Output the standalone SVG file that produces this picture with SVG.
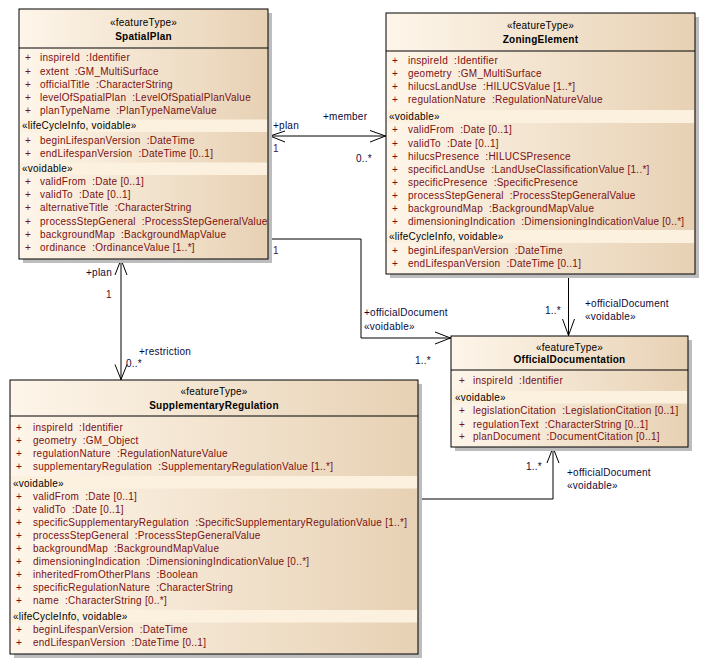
<svg xmlns="http://www.w3.org/2000/svg" width="707" height="664" viewBox="0 0 707 664">
<defs>
<linearGradient id="g" x1="0" y1="0" x2="1" y2="0">
<stop offset="0" stop-color="#FEF6EA"/>
<stop offset="1" stop-color="#E7D1B4"/>
</linearGradient>
</defs>
<style>
text{font-family:"Liberation Sans",Arial,sans-serif;font-size:10px;letter-spacing:0.25px;white-space:pre}
.box{fill:url(#g);stroke:#000;stroke-width:1}
.sh{fill:#BDBDBD}
.sep{stroke:#000;stroke-width:1}
.band{fill:#FCF1DF}
.st{fill:#000;text-anchor:middle}
.nm{fill:#000;text-anchor:middle;font-weight:bold}
.a{fill:#7A1010}
.cl{fill:#000}
.ln{fill:none;stroke:#000;stroke-width:1}
.lb{fill:#0A0A3A}
.m1{fill:#5A1030}
</style>
<rect x="0" y="0" width="707" height="664" fill="#fff"/>

<g id="connectors">
<line class="ln" x1="269" y1="136" x2="386" y2="136"/>
<polyline class="ln" points="285,131 270,136 285,142"/>
<polyline class="ln" points="370,130.5 385.5,136 370,142"/>
<text class="lb" x="273" y="128.5">+plan</text>
<text class="m1" x="273" y="152">1</text>
<text class="lb" x="323" y="120">+member</text>
<text class="lb" x="356" y="161.5">0..*</text>

<polyline class="ln" points="269,239 361,239 361,338 451,338"/>
<polyline class="ln" points="435,332 450.5,338 435,344"/>
<text class="m1" x="273" y="254">1</text>
<text class="lb" x="364" y="316">+officialDocument</text>
<text class="lb" x="364" y="330">«voidable»</text>
<text class="lb" x="415" y="364">1..*</text>

<line class="ln" x1="121" y1="259" x2="121" y2="380"/>
<polyline class="ln" points="115,275 121,259.5 127,275"/>
<polyline class="ln" points="115,364.5 121,379.5 127,364.5"/>
<text class="lb" x="86" y="276">+plan</text>
<text class="m1" x="106" y="298">1</text>
<text class="lb" x="139" y="355">+restriction</text>
<text class="lb" x="126" y="367">0..*</text>

<polyline class="ln" points="418,499 553,499 553,447"/>
<polyline class="ln" points="547,463 553,447.5 559,463"/>
<text class="lb" x="526" y="470">1..*</text>
<text class="lb" x="567" y="475.5">+officialDocument</text>
<text class="lb" x="567" y="488.5">«voidable»</text>

<line class="ln" x1="568.5" y1="274" x2="568.5" y2="336"/>
<polyline class="ln" points="562.5,319 568.5,335.5 574.5,319"/>
<text class="lb" x="545" y="314">1..*</text>
<text class="lb" x="585" y="306.5">+officialDocument</text>
<text class="lb" x="585" y="320">«voidable»</text>
</g>

<g id="SpatialPlan">
<rect class="sh" x="23" y="13" width="249" height="250"/>
<rect class="box" x="19" y="9" width="249" height="250"/>
<line class="sep" x1="19" y1="48" x2="268" y2="48"/>
<text class="st" x="143.5" y="26">«featureType»</text>
<text class="nm" x="143.5" y="39.5">SpatialPlan</text>
<rect class="band" x="20" y="119.5" width="247" height="12.5"/>
<rect class="band" x="20" y="162.5" width="247" height="12.5"/>
<g class="a">
<text x="25" y="61">+</text><text x="40" y="61">inspireId  :Identifier</text>
<text x="25" y="74.5">+</text><text x="40" y="74.5">extent  :GM_MultiSurface</text>
<text x="25" y="87.5">+</text><text x="40" y="87.5">officialTitle  :CharacterString</text>
<text x="25" y="100.5">+</text><text x="40" y="100.5">levelOfSpatialPlan  :LevelOfSpatialPlanValue</text>
<text x="25" y="113.5">+</text><text x="40" y="113.5">planTypeName  :PlanTypeNameValue</text>
<text x="25" y="143.5">+</text><text x="40" y="143.5">beginLifespanVersion  :DateTime</text>
<text x="25" y="156.5">+</text><text x="40" y="156.5">endLifespanVersion  :DateTime [0..1]</text>
<text x="25" y="185">+</text><text x="40" y="185">validFrom  :Date [0..1]</text>
<text x="25" y="198">+</text><text x="40" y="198">validTo  :Date [0..1]</text>
<text x="25" y="211">+</text><text x="40" y="211">alternativeTitle  :CharacterString</text>
<text x="25" y="224.5">+</text><text x="40" y="224.5">processStepGeneral  :ProcessStepGeneralValue</text>
<text x="25" y="237.5">+</text><text x="40" y="237.5">backgroundMap  :BackgroundMapValue</text>
<text x="25" y="251">+</text><text x="40" y="251">ordinance  :OrdinanceValue [1..*]</text>
</g>
<text class="cl" x="22" y="129">«lifeCycleInfo, voidable»</text>
<text class="cl" x="22" y="172">«voidable»</text>
</g>

<g id="ZoningElement">
<rect class="sh" x="390" y="17" width="309" height="261"/>
<rect class="box" x="386" y="13" width="309" height="261"/>
<line class="sep" x1="386" y1="51" x2="695" y2="51"/>
<text class="st" x="540.5" y="29">«featureType»</text>
<text class="nm" x="540.5" y="42.5">ZoningElement</text>
<rect class="band" x="387" y="110" width="307" height="13"/>
<rect class="band" x="387" y="230" width="307" height="13"/>
<g class="a">
<text x="392" y="64">+</text><text x="408" y="64">inspireId  :Identifier</text>
<text x="392" y="77">+</text><text x="408" y="77">geometry  :GM_MultiSurface</text>
<text x="392" y="90">+</text><text x="408" y="90">hilucsLandUse  :HILUCSValue [1..*]</text>
<text x="392" y="103">+</text><text x="408" y="103">regulationNature  :RegulationNatureValue</text>
<text x="392" y="133">+</text><text x="408" y="133">validFrom  :Date [0..1]</text>
<text x="392" y="146.5">+</text><text x="408" y="146.5">validTo  :Date [0..1]</text>
<text x="392" y="159.5">+</text><text x="408" y="159.5">hilucsPresence  :HILUCSPresence</text>
<text x="392" y="172.5">+</text><text x="408" y="172.5">specificLandUse  :LandUseClassificationValue [1..*]</text>
<text x="392" y="185.5">+</text><text x="408" y="185.5">specificPresence  :SpecificPresence</text>
<text x="392" y="198.5">+</text><text x="408" y="198.5">processStepGeneral  :ProcessStepGeneralValue</text>
<text x="392" y="211.5">+</text><text x="408" y="211.5">backgroundMap  :BackgroundMapValue</text>
<text x="392" y="224.5">+</text><text x="408" y="224.5">dimensioningIndication  :DimensioningIndicationValue [0..*]</text>
<text x="392" y="253.5">+</text><text x="408" y="253.5">beginLifespanVersion  :DateTime</text>
<text x="392" y="266.5">+</text><text x="408" y="266.5">endLifespanVersion  :DateTime [0..1]</text>
</g>
<text class="cl" x="389" y="120">«voidable»</text>
<text class="cl" x="389" y="240">«lifeCycleInfo, voidable»</text>
</g>

<g id="OfficialDocumentation">
<rect class="sh" x="455" y="340" width="237" height="111"/>
<rect class="box" x="451" y="336" width="237" height="111"/>
<line class="sep" x1="451" y1="370" x2="688" y2="370"/>
<text class="st" x="569.5" y="351">«featureType»</text>
<text class="nm" x="569.5" y="362.5">OfficialDocumentation</text>
<rect class="band" x="452" y="391" width="235" height="12.5"/>
<g class="a">
<text x="459" y="384">+</text><text x="473" y="384">inspireId  :Identifier</text>
<text x="459" y="414">+</text><text x="473" y="414">legislationCitation  :LegislationCitation [0..1]</text>
<text x="459" y="427.5">+</text><text x="473" y="427.5">regulationText  :CharacterString [0..1]</text>
<text x="459" y="440">+</text><text x="473" y="440">planDocument  :DocumentCitation [0..1]</text>
</g>
<text class="cl" x="455" y="400.5">«voidable»</text>
</g>

<g id="SupplementaryRegulation">
<rect class="sh" x="14" y="384" width="408" height="274"/>
<rect class="box" x="10" y="380" width="408" height="274"/>
<line class="sep" x1="10" y1="416" x2="418" y2="416"/>
<text class="st" x="214" y="394.5">«featureType»</text>
<text class="nm" x="214" y="408.5">SupplementaryRegulation</text>
<rect class="band" x="11" y="476" width="406" height="12.5"/>
<rect class="band" x="11" y="610" width="406" height="12.5"/>
<g class="a">
<text x="16" y="431">+</text><text x="33" y="431">inspireId  :Identifier</text>
<text x="16" y="443.5">+</text><text x="33" y="443.5">geometry  :GM_Object</text>
<text x="16" y="457">+</text><text x="33" y="457">regulationNature  :RegulationNatureValue</text>
<text x="16" y="469.5">+</text><text x="33" y="469.5">supplementaryRegulation  :SupplementaryRegulationValue [1..*]</text>
<text x="16" y="499.5">+</text><text x="33" y="499.5">validFrom  :Date [0..1]</text>
<text x="16" y="512.5">+</text><text x="33" y="512.5">validTo  :Date [0..1]</text>
<text x="16" y="526">+</text><text x="33" y="526">specificSupplementaryRegulation  :SpecificSupplementaryRegulationValue [1..*]</text>
<text x="16" y="538.5">+</text><text x="33" y="538.5">processStepGeneral  :ProcessStepGeneralValue</text>
<text x="16" y="552">+</text><text x="33" y="552">backgroundMap  :BackgroundMapValue</text>
<text x="16" y="564.5">+</text><text x="33" y="564.5">dimensioningIndication  :DimensioningIndicationValue [0..*]</text>
<text x="16" y="577.5">+</text><text x="33" y="577.5">inheritedFromOtherPlans  :Boolean</text>
<text x="16" y="591">+</text><text x="33" y="591">specificRegulationNature  :CharacterString</text>
<text x="16" y="603.5">+</text><text x="33" y="603.5">name  :CharacterString [0..*]</text>
<text x="16" y="633">+</text><text x="33" y="633">beginLifespanVersion  :DateTime</text>
<text x="16" y="646">+</text><text x="33" y="646">endLifespanVersion  :DateTime [0..1]</text>
</g>
<text class="cl" x="13" y="486.5">«voidable»</text>
<text class="cl" x="13" y="620">«lifeCycleInfo, voidable»</text>
</g>
</svg>
